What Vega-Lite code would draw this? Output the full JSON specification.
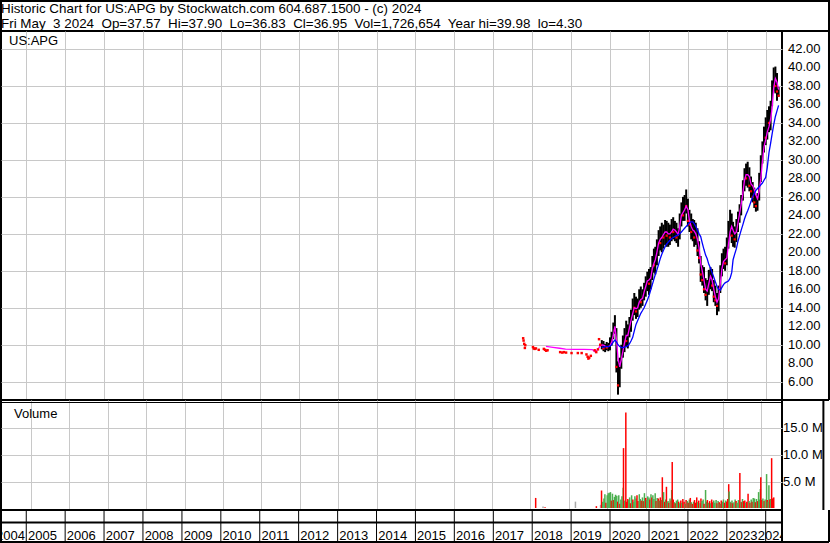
{
  "$schema": "https://vega.github.io/schema/vega-lite/v6.json",
  "padding": 0,
  "background": "white",
  "spacing": 0,
  "bounds": "flush",
  "config": {
    "view": {"stroke": "#000", "strokeWidth": 2},
    "font": "Liberation Sans",
    "axis": {"gridColor": "#c8c8c8", "gridWidth": 1, "gridOpacity": 1}
  },
  "datasets": {
    "head": [
      {"n": 1, "t": "Historic Chart for US:APG by Stockwatch.com 604.687.1500 - (c) 2024"},
      {"n": 2, "t": "Fri May\u00a0 3 2024\u00a0 Op=37.57\u00a0 Hi=37.90\u00a0 Lo=36.83\u00a0 Cl=36.95\u00a0 Vol=1,726,654\u00a0 Year hi=39.98\u00a0 lo=4.30"}
    ],
    "p": [
      {"d":"2018-05-10","m1":9.83},{"d":"2018-07-15","m1":9.72},{"d":"2018-09-15","m1":9.62},{"d":"2018-11-10","m1":9.52},
      {"d":"2019-02-01","m1":9.5},{"d":"2019-05-01","m1":9.5},{"d":"2019-07-20","m1":9.48},{"d":"2019-08-10","m1":9.25},
      {"d":"2019-09-05","m1":9.45},{"d":"2019-09-25","m1":9.78},
      {"d":"2019-10-16","o":9.6,"h":10.5,"l":9.5,"c":10.2,"m1":9.97,"m2":9.7},
      {"d":"2019-11-01","o":10.2,"h":10.4,"l":9.3,"c":9.6,"m1":9.95,"m2":9.75},
      {"d":"2019-11-16","o":9.6,"h":10.1,"l":9.2,"c":9.9,"m1":9.85,"m2":9.8},
      {"d":"2019-12-01","o":9.9,"h":10.3,"l":9.4,"c":9.7,"m1":9.8,"m2":9.8},
      {"d":"2019-12-16","o":9.7,"h":10.2,"l":9.3,"c":9.9,"m1":9.8,"m2":9.8},
      {"d":"2020-01-01","o":9.9,"h":10.8,"l":9.4,"c":10.5,"m1":9.9,"m2":9.85},
      {"d":"2020-01-16","o":10.5,"h":11.4,"l":9.9,"c":11.0,"m1":10.3,"m2":10.0},
      {"d":"2020-02-01","o":11.0,"h":12.4,"l":10.6,"c":12.2,"m1":11.0,"m2":10.3},
      {"d":"2020-02-16","o":12.2,"h":13.2,"l":11.2,"c":11.6,"m1":12.0,"m2":10.5},
      {"d":"2020-03-01","o":11.6,"h":11.8,"l":7.0,"c":7.6,"m1":10.6,"m2":10.3},
      {"d":"2020-03-16","o":7.6,"h":8.2,"l":4.6,"c":5.6,"m1":8.6,"m2":10.0},
      {"d":"2020-04-01","o":5.6,"h":8.6,"l":5.4,"c":8.2,"m1":7.6,"m2":9.8},
      {"d":"2020-04-16","o":8.2,"h":10.0,"l":7.4,"c":9.6,"m1":8.4,"m2":9.7},
      {"d":"2020-05-01","o":9.6,"h":11.0,"l":8.6,"c":10.2,"m1":9.3,"m2":9.7},
      {"d":"2020-05-16","o":10.2,"h":11.8,"l":9.2,"c":11.0,"m1":10.2,"m2":9.75},
      {"d":"2020-06-01","o":11.0,"h":12.6,"l":9.8,"c":10.4,"m1":11.0,"m2":9.8},
      {"d":"2020-06-16","o":10.4,"h":12.2,"l":9.6,"c":11.6,"m1":11.0,"m2":9.9},
      {"d":"2020-07-01","o":11.6,"h":13.0,"l":10.8,"c":12.6,"m1":11.8,"m2":10.1},
      {"d":"2020-07-16","o":12.6,"h":13.8,"l":11.4,"c":13.2,"m1":12.6,"m2":10.4},
      {"d":"2020-08-01","o":13.2,"h":15.0,"l":12.6,"c":14.4,"m1":13.4,"m2":10.8},
      {"d":"2020-08-16","o":14.4,"h":15.6,"l":13.2,"c":14.0,"m1":14.0,"m2":11.5},
      {"d":"2020-09-01","o":14.0,"h":15.2,"l":12.8,"c":13.6,"m1":13.9,"m2":12.2},
      {"d":"2020-09-16","o":13.6,"h":15.0,"l":13.0,"c":14.6,"m1":14.0,"m2":12.6},
      {"d":"2020-10-01","o":14.6,"h":16.0,"l":13.8,"c":15.2,"m1":14.6,"m2":13.0},
      {"d":"2020-10-16","o":15.2,"h":16.3,"l":14.0,"c":14.6,"m1":14.9,"m2":13.4},
      {"d":"2020-11-01","o":14.6,"h":16.0,"l":14.2,"c":15.6,"m1":15.0,"m2":13.7},
      {"d":"2020-11-16","o":15.6,"h":16.7,"l":14.8,"c":16.2,"m1":15.7,"m2":14.0},
      {"d":"2020-12-01","o":16.2,"h":17.4,"l":15.2,"c":16.8,"m1":16.3,"m2":14.4},
      {"d":"2020-12-16","o":16.8,"h":17.9,"l":15.8,"c":17.4,"m1":16.9,"m2":14.8},
      {"d":"2021-01-01","o":17.4,"h":18.2,"l":15.4,"c":16.6,"m1":17.0,"m2":15.3},
      {"d":"2021-01-16","o":16.6,"h":18.4,"l":16.0,"c":17.8,"m1":17.2,"m2":15.9},
      {"d":"2021-02-01","o":17.8,"h":19.6,"l":17.0,"c":19.0,"m1":18.2,"m2":16.5},
      {"d":"2021-02-16","o":19.0,"h":20.4,"l":17.8,"c":18.6,"m1":18.8,"m2":17.1},
      {"d":"2021-03-01","o":18.6,"h":20.6,"l":17.6,"c":19.8,"m1":19.2,"m2":17.6},
      {"d":"2021-03-16","o":19.8,"h":21.4,"l":18.6,"c":20.8,"m1":20.0,"m2":18.1},
      {"d":"2021-04-01","o":20.8,"h":22.4,"l":19.6,"c":21.8,"m1":21.0,"m2":18.7},
      {"d":"2021-04-16","o":21.8,"h":22.8,"l":20.2,"c":21.0,"m1":21.4,"m2":19.3},
      {"d":"2021-05-01","o":21.0,"h":23.2,"l":20.0,"c":22.4,"m1":21.6,"m2":19.8},
      {"d":"2021-05-16","o":22.4,"h":23.0,"l":20.4,"c":21.6,"m1":21.9,"m2":20.2},
      {"d":"2021-06-01","o":21.6,"h":23.5,"l":20.8,"c":22.8,"m1":22.2,"m2":20.6},
      {"d":"2021-06-16","o":22.8,"h":23.4,"l":20.6,"c":21.8,"m1":22.2,"m2":20.9},
      {"d":"2021-07-01","o":21.8,"h":23.2,"l":20.6,"c":22.6,"m1":22.0,"m2":21.1},
      {"d":"2021-07-16","o":22.6,"h":23.0,"l":20.8,"c":21.6,"m1":22.0,"m2":21.3},
      {"d":"2021-08-01","o":21.6,"h":23.6,"l":21.2,"c":23.0,"m1":22.2,"m2":21.5},
      {"d":"2021-08-16","o":23.0,"h":23.8,"l":21.4,"c":22.2,"m1":22.5,"m2":21.6},
      {"d":"2021-09-01","o":22.2,"h":23.4,"l":21.2,"c":22.8,"m1":22.4,"m2":21.7},
      {"d":"2021-09-16","o":22.8,"h":23.2,"l":21.0,"c":21.6,"m1":22.2,"m2":21.8},
      {"d":"2021-10-01","o":21.6,"h":22.6,"l":20.6,"c":22.2,"m1":21.9,"m2":21.9},
      {"d":"2021-10-16","o":22.2,"h":24.2,"l":21.4,"c":23.8,"m1":22.8,"m2":22.0},
      {"d":"2021-11-01","o":23.8,"h":25.4,"l":22.8,"c":24.6,"m1":24.0,"m2":22.2},
      {"d":"2021-11-16","o":24.6,"h":26.0,"l":23.4,"c":24.0,"m1":24.3,"m2":22.4},
      {"d":"2021-12-01","o":24.0,"h":26.2,"l":23.4,"c":25.6,"m1":24.6,"m2":22.6},
      {"d":"2021-12-16","o":25.6,"h":26.8,"l":24.2,"c":25.0,"m1":25.0,"m2":22.8},
      {"d":"2022-01-01","o":25.0,"h":25.8,"l":22.8,"c":23.4,"m1":24.6,"m2":23.0},
      {"d":"2022-01-16","o":23.4,"h":24.6,"l":22.2,"c":23.0,"m1":23.4,"m2":23.2},
      {"d":"2022-02-01","o":23.0,"h":24.2,"l":21.4,"c":22.2,"m1":22.8,"m2":23.3},
      {"d":"2022-02-16","o":22.2,"h":23.6,"l":21.2,"c":22.8,"m1":22.4,"m2":23.3},
      {"d":"2022-03-01","o":22.8,"h":23.5,"l":20.6,"c":21.6,"m1":22.3,"m2":23.1},
      {"d":"2022-03-16","o":21.6,"h":23.2,"l":20.8,"c":22.6,"m1":22.0,"m2":22.8},
      {"d":"2022-04-01","o":22.4,"h":22.6,"l":19.6,"c":20.2,"m1":21.4,"m2":22.4},
      {"d":"2022-04-16","o":20.2,"h":21.2,"l":18.8,"c":19.4,"m1":20.5,"m2":22.0},
      {"d":"2022-05-01","o":19.4,"h":19.6,"l":16.8,"c":17.6,"m1":18.8,"m2":21.7},
      {"d":"2022-05-16","o":17.6,"h":18.6,"l":16.4,"c":17.0,"m1":18.0,"m2":21.0},
      {"d":"2022-06-01","o":17.0,"h":18.4,"l":15.6,"c":16.0,"m1":17.0,"m2":20.3},
      {"d":"2022-06-16","o":16.0,"h":17.2,"l":14.8,"c":15.4,"m1":16.0,"m2":19.7},
      {"d":"2022-07-01","o":15.4,"h":17.0,"l":14.2,"c":16.4,"m1":15.8,"m2":19.3},
      {"d":"2022-07-16","o":16.4,"h":18.1,"l":15.4,"c":17.4,"m1":16.6,"m2":18.7},
      {"d":"2022-08-01","o":17.4,"h":18.4,"l":16.0,"c":17.8,"m1":17.4,"m2":18.3},
      {"d":"2022-08-16","o":17.8,"h":18.2,"l":15.8,"c":16.4,"m1":17.0,"m2":17.8},
      {"d":"2022-09-01","o":16.4,"h":17.0,"l":14.6,"c":15.2,"m1":16.0,"m2":17.3},
      {"d":"2022-09-16","o":15.2,"h":16.4,"l":14.2,"c":14.8,"m1":15.2,"m2":16.8},
      {"d":"2022-10-01","o":14.8,"h":15.6,"l":13.2,"c":14.2,"m1":14.6,"m2":16.3},
      {"d":"2022-10-16","o":14.2,"h":16.4,"l":13.6,"c":15.8,"m1":15.0,"m2":16.0},
      {"d":"2022-11-01","o":15.8,"h":18.6,"l":15.6,"c":18.0,"m1":16.6,"m2":15.9},
      {"d":"2022-11-16","o":18.0,"h":19.9,"l":17.4,"c":19.2,"m1":18.2,"m2":16.2},
      {"d":"2022-12-01","o":19.2,"h":20.4,"l":18.2,"c":19.6,"m1":19.0,"m2":16.5},
      {"d":"2022-12-16","o":19.6,"h":20.6,"l":18.0,"c":18.8,"m1":19.2,"m2":16.7},
      {"d":"2023-01-01","o":18.8,"h":21.6,"l":18.6,"c":21.0,"m1":19.4,"m2":16.8},
      {"d":"2023-01-16","o":21.0,"h":23.4,"l":20.4,"c":22.6,"m1":20.8,"m2":16.9},
      {"d":"2023-02-01","o":22.6,"h":24.6,"l":21.8,"c":23.6,"m1":22.2,"m2":17.2},
      {"d":"2023-02-16","o":23.6,"h":24.2,"l":21.0,"c":21.8,"m1":22.8,"m2":17.8},
      {"d":"2023-03-01","o":21.8,"h":23.3,"l":20.6,"c":22.4,"m1":22.4,"m2":19.2},
      {"d":"2023-03-16","o":22.4,"h":22.8,"l":20.5,"c":21.4,"m1":22.0,"m2":19.8},
      {"d":"2023-04-01","o":21.4,"h":23.6,"l":21.1,"c":23.0,"m1":22.2,"m2":20.4},
      {"d":"2023-04-16","o":23.0,"h":24.4,"l":22.2,"c":23.8,"m1":23.2,"m2":21.2},
      {"d":"2023-05-01","o":23.8,"h":25.2,"l":23.2,"c":24.8,"m1":24.2,"m2":21.8},
      {"d":"2023-05-16","o":24.8,"h":26.2,"l":24.0,"c":25.8,"m1":25.2,"m2":22.4},
      {"d":"2023-06-01","o":25.8,"h":27.8,"l":25.6,"c":27.4,"m1":26.4,"m2":23.0},
      {"d":"2023-06-16","o":27.4,"h":29.1,"l":26.6,"c":28.4,"m1":27.8,"m2":23.6},
      {"d":"2023-07-01","o":28.4,"h":29.6,"l":27.2,"c":28.0,"m1":28.4,"m2":24.1},
      {"d":"2023-07-16","o":28.0,"h":29.8,"l":27.0,"c":28.8,"m1":28.4,"m2":24.5},
      {"d":"2023-08-01","o":28.8,"h":29.2,"l":26.6,"c":27.2,"m1":28.2,"m2":25.0},
      {"d":"2023-08-16","o":27.2,"h":28.2,"l":25.9,"c":26.6,"m1":27.4,"m2":25.5},
      {"d":"2023-09-01","o":26.6,"h":27.6,"l":25.4,"c":26.0,"m1":27.2,"m2":26.0},
      {"d":"2023-09-16","o":26.0,"h":27.0,"l":24.8,"c":25.4,"m1":26.8,"m2":26.4},
      {"d":"2023-10-01","o":25.4,"h":26.2,"l":24.4,"c":25.0,"m1":26.2,"m2":26.7},
      {"d":"2023-10-16","o":25.0,"h":26.4,"l":24.5,"c":25.8,"m1":25.8,"m2":26.9},
      {"d":"2023-11-01","o":25.8,"h":28.6,"l":25.6,"c":28.0,"m1":26.6,"m2":27.1},
      {"d":"2023-11-16","o":28.0,"h":30.5,"l":27.6,"c":30.0,"m1":28.0,"m2":27.3},
      {"d":"2023-12-01","o":30.0,"h":32.0,"l":29.6,"c":31.4,"m1":29.8,"m2":27.5},
      {"d":"2023-12-16","o":31.4,"h":33.6,"l":30.8,"c":33.0,"m1":31.4,"m2":27.8},
      {"d":"2024-01-01","o":33.0,"h":34.6,"l":31.6,"c":32.4,"m1":32.2,"m2":28.1},
      {"d":"2024-01-16","o":32.4,"h":35.4,"l":32.2,"c":34.6,"m1":33.0,"m2":29.2},
      {"d":"2024-02-01","o":34.6,"h":35.8,"l":33.0,"c":34.0,"m1":33.6,"m2":30.8},
      {"d":"2024-02-16","o":34.0,"h":36.4,"l":33.2,"c":36.0,"m1":34.4,"m2":31.8},
      {"d":"2024-03-01","o":36.0,"h":38.6,"l":35.8,"c":38.2,"m1":35.6,"m2":32.8},
      {"d":"2024-03-16","o":38.2,"h":40.0,"l":37.4,"c":39.2,"m1":37.8,"m2":33.8},
      {"d":"2024-04-01","o":39.2,"h":40.1,"l":37.2,"c":38.0,"m1":38.8,"m2":34.7},
      {"d":"2024-04-16","o":38.0,"h":39.4,"l":36.4,"c":37.4,"m1":38.4,"m2":35.3},
      {"d":"2024-05-01","o":37.57,"h":37.9,"l":36.83,"c":36.95,"m1":37.6,"m2":35.9}
    ],
    "dots": [
      {"d":"2017-10-08","p":10.7},{"d":"2017-10-12","p":10.45},{"d":"2017-10-18","p":10.1},{"d":"2017-10-24","p":9.65},
      {"d":"2017-10-28","p":9.95},{"d":"2018-01-08","p":9.75},{"d":"2018-01-15","p":9.6},{"d":"2018-01-24","p":9.55},
      {"d":"2018-02-05","p":9.6},{"d":"2018-03-03","p":9.45},{"d":"2018-04-20","p":9.55},{"d":"2018-05-01","p":9.45},
      {"d":"2018-05-12","p":9.35},{"d":"2018-05-25","p":9.4},{"d":"2018-09-20","p":9.2},{"d":"2018-10-10","p":9.15},
      {"d":"2018-10-25","p":9.2},{"d":"2018-11-15","p":9.15},{"d":"2019-01-05","p":9.1},{"d":"2019-03-05","p":9.1},
      {"d":"2019-04-10","p":9.1},{"d":"2019-05-25","p":8.95},{"d":"2019-06-05","p":8.7},{"d":"2019-06-12","p":8.5},
      {"d":"2019-06-20","p":8.6},{"d":"2019-07-05","p":8.8},{"d":"2019-08-10","p":9.4},{"d":"2019-08-25","p":9.2},
      {"d":"2019-09-10","p":9.5},{"d":"2019-09-20","p":10.6},{"d":"2019-10-01","p":10.0}
    ],
    "vol": [
      {"d":"2018-02-20","v":1.9,"k":"dn"},{"d":"2018-05-01","v":0.3,"k":"na"},{"d":"2018-05-20","v":0.15,"k":"dn"},
      {"d":"2019-03-05","v":1.2,"k":"na"},{"d":"2019-09-20","v":0.35,"k":"dn"},{"d":"2019-10-30","v":0.6,"k":"na"},
      {"d":"2019-11-08","v":3.3,"k":"dn"},{"d":"2019-11-20","v":1.2,"k":"up"},{"d":"2019-12-01","v":1.8,"k":"up"},
      {"d":"2019-12-10","v":2.6,"k":"up"},{"d":"2019-12-20","v":1.0,"k":"dn"},
      {"d":"2020-01-01","v":2.4,"k":"up"},{"d":"2020-01-10","v":2.8,"k":"up"},{"d":"2020-01-20","v":2.9,"k":"up"},
      {"d":"2020-02-01","v":3.0,"k":"up"},{"d":"2020-02-10","v":1.4,"k":"dn"},{"d":"2020-02-20","v":2.7,"k":"up"},
      {"d":"2020-03-01","v":1.5,"k":"dn"},{"d":"2020-03-10","v":2.1,"k":"up"},{"d":"2020-03-20","v":2.5,"k":"up"},
      {"d":"2020-04-01","v":2.3,"k":"up"},{"d":"2020-04-10","v":1.2,"k":"dn"},{"d":"2020-04-20","v":2.4,"k":"up"},
      {"d":"2020-05-01","v":0.8,"k":"dn"},{"d":"2020-05-10","v":1.6,"k":"up"},{"d":"2020-05-20","v":2.2,"k":"up"},
      {"d":"2020-06-01","v":3.8,"k":"up"},{"d":"2020-06-04","v":11.3,"k":"dn"},{"d":"2020-06-15","v":1.4,"k":"up"},
      {"d":"2020-06-26","v":18.0,"k":"dn"},{"d":"2020-07-05","v":1.2,"k":"dn"},{"d":"2020-07-15","v":1.7,"k":"dn"},
      {"d":"2020-07-25","v":1.5,"k":"up"},{"d":"2020-08-01","v":2.0,"k":"up"},{"d":"2020-08-10","v":0.9,"k":"dn"},
      {"d":"2020-08-20","v":2.4,"k":"up"},{"d":"2020-09-01","v":1.6,"k":"dn"},{"d":"2020-09-10","v":1.2,"k":"up"},
      {"d":"2020-09-20","v":2.2,"k":"up"},{"d":"2020-10-01","v":1.8,"k":"up"},{"d":"2020-10-10","v":2.4,"k":"dn"},
      {"d":"2020-10-20","v":1.3,"k":"dn"},{"d":"2020-11-01","v":2.6,"k":"up"},{"d":"2020-11-10","v":1.7,"k":"up"},
      {"d":"2020-11-20","v":1.4,"k":"dn"},{"d":"2020-12-01","v":2.0,"k":"up"},{"d":"2020-12-10","v":1.3,"k":"dn"},
      {"d":"2020-12-20","v":2.8,"k":"up"},
      {"d":"2021-01-01","v":1.9,"k":"dn"},{"d":"2021-01-10","v":1.5,"k":"up"},{"d":"2021-01-20","v":2.2,"k":"up"},
      {"d":"2021-02-01","v":2.0,"k":"up"},{"d":"2021-02-10","v":1.6,"k":"dn"},{"d":"2021-02-20","v":2.6,"k":"up"},
      {"d":"2021-03-01","v":2.0,"k":"dn"},{"d":"2021-03-10","v":2.4,"k":"up"},{"d":"2021-03-20","v":1.7,"k":"up"},
      {"d":"2021-04-01","v":2.8,"k":"up"},{"d":"2021-04-10","v":1.3,"k":"dn"},{"d":"2021-04-20","v":1.9,"k":"up"},
      {"d":"2021-05-01","v":1.8,"k":"dn"},{"d":"2021-05-10","v":1.4,"k":"up"},{"d":"2021-05-20","v":2.0,"k":"dn"},
      {"d":"2021-06-01","v":1.5,"k":"up"},{"d":"2021-06-08","v":5.8,"k":"dn"},{"d":"2021-06-20","v":3.0,"k":"up"},
      {"d":"2021-07-01","v":1.2,"k":"dn"},{"d":"2021-07-10","v":1.6,"k":"up"},{"d":"2021-07-17","v":4.0,"k":"dn"},
      {"d":"2021-07-25","v":1.1,"k":"up"},{"d":"2021-08-01","v":1.3,"k":"up"},{"d":"2021-08-10","v":1.0,"k":"dn"},
      {"d":"2021-08-20","v":1.8,"k":"up"},{"d":"2021-09-01","v":1.4,"k":"dn"},{"d":"2021-09-05","v":3.4,"k":"up"},
      {"d":"2021-09-10","v":8.7,"k":"dn"},{"d":"2021-09-20","v":1.6,"k":"dn"},{"d":"2021-10-01","v":1.1,"k":"up"},
      {"d":"2021-10-10","v":0.9,"k":"dn"},{"d":"2021-10-20","v":1.4,"k":"up"},{"d":"2021-11-01","v":1.6,"k":"up"},
      {"d":"2021-11-10","v":1.2,"k":"dn"},{"d":"2021-11-20","v":0.9,"k":"up"},{"d":"2021-12-01","v":1.4,"k":"dn"},
      {"d":"2021-12-10","v":1.0,"k":"up"},{"d":"2021-12-20","v":1.7,"k":"dn"},
      {"d":"2022-01-01","v":1.2,"k":"dn"},{"d":"2022-01-10","v":0.8,"k":"up"},{"d":"2022-01-20","v":1.5,"k":"dn"},
      {"d":"2022-02-01","v":1.3,"k":"up"},{"d":"2022-02-10","v":1.0,"k":"dn"},{"d":"2022-02-20","v":1.6,"k":"up"},
      {"d":"2022-03-01","v":1.9,"k":"dn"},{"d":"2022-03-10","v":1.1,"k":"up"},{"d":"2022-03-20","v":0.8,"k":"dn"},
      {"d":"2022-04-01","v":1.2,"k":"up"},{"d":"2022-04-10","v":1.5,"k":"dn"},{"d":"2022-04-20","v":1.0,"k":"dn"},
      {"d":"2022-05-01","v":2.0,"k":"dn"},{"d":"2022-05-10","v":1.1,"k":"up"},{"d":"2022-05-20","v":1.4,"k":"dn"},
      {"d":"2022-06-01","v":0.9,"k":"up"},{"d":"2022-06-10","v":1.8,"k":"dn"},{"d":"2022-06-20","v":1.3,"k":"up"},
      {"d":"2022-07-01","v":1.6,"k":"up"},{"d":"2022-07-10","v":0.8,"k":"dn"},{"d":"2022-07-24","v":3.4,"k":"up"},
      {"d":"2022-08-01","v":1.2,"k":"up"},{"d":"2022-08-10","v":1.5,"k":"dn"},{"d":"2022-08-20","v":1.0,"k":"up"},
      {"d":"2022-09-01","v":1.3,"k":"dn"},{"d":"2022-09-10","v":0.9,"k":"up"},{"d":"2022-09-20","v":1.6,"k":"dn"},
      {"d":"2022-10-01","v":1.1,"k":"dn"},{"d":"2022-10-10","v":1.4,"k":"up"},{"d":"2022-10-20","v":1.0,"k":"up"},
      {"d":"2022-11-01","v":1.5,"k":"up"},{"d":"2022-11-10","v":0.9,"k":"dn"},{"d":"2022-11-20","v":1.3,"k":"up"},
      {"d":"2022-12-01","v":1.1,"k":"dn"},{"d":"2022-12-10","v":0.8,"k":"up"},{"d":"2022-12-20","v":1.4,"k":"dn"},
      {"d":"2023-01-01","v":1.2,"k":"up"},{"d":"2023-01-10","v":1.6,"k":"up"},{"d":"2023-01-20","v":1.0,"k":"dn"},
      {"d":"2023-02-01","v":1.4,"k":"up"},{"d":"2023-02-10","v":1.2,"k":"dn"},{"d":"2023-02-20","v":1.7,"k":"dn"},
      {"d":"2023-03-01","v":4.5,"k":"dn"},{"d":"2023-03-05","v":3.1,"k":"up"},{"d":"2023-03-15","v":1.2,"k":"up"},
      {"d":"2023-03-25","v":1.0,"k":"dn"},{"d":"2023-04-01","v":1.4,"k":"up"},{"d":"2023-04-10","v":0.9,"k":"dn"},
      {"d":"2023-04-20","v":1.1,"k":"up"},{"d":"2023-05-01","v":1.6,"k":"up"},{"d":"2023-05-10","v":1.3,"k":"dn"},
      {"d":"2023-05-20","v":1.0,"k":"up"},{"d":"2023-06-01","v":1.5,"k":"up"},{"d":"2023-06-15","v":6.6,"k":"dn"},
      {"d":"2023-06-25","v":1.2,"k":"up"},{"d":"2023-07-01","v":1.1,"k":"dn"},{"d":"2023-07-10","v":1.7,"k":"up"},
      {"d":"2023-07-20","v":1.3,"k":"dn"},{"d":"2023-08-01","v":1.4,"k":"dn"},{"d":"2023-08-10","v":1.0,"k":"up"},
      {"d":"2023-08-20","v":1.2,"k":"dn"},{"d":"2023-09-01","v":2.7,"k":"dn"},{"d":"2023-09-10","v":1.3,"k":"up"},
      {"d":"2023-09-20","v":1.0,"k":"dn"},{"d":"2023-10-01","v":1.6,"k":"up"},{"d":"2023-10-10","v":1.2,"k":"dn"},
      {"d":"2023-10-20","v":1.9,"k":"up"},{"d":"2023-11-01","v":1.8,"k":"up"},{"d":"2023-11-10","v":1.1,"k":"dn"},
      {"d":"2023-11-20","v":1.7,"k":"up"},{"d":"2023-12-01","v":1.3,"k":"dn"},{"d":"2023-12-10","v":3.0,"k":"up"},
      {"d":"2023-12-20","v":1.6,"k":"up"},{"d":"2023-12-27","v":3.6,"k":"up"},{"d":"2023-12-31","v":5.8,"k":"dn"},
      {"d":"2024-01-10","v":1.5,"k":"dn"},{"d":"2024-01-20","v":1.8,"k":"up"},{"d":"2024-02-01","v":1.3,"k":"dn"},
      {"d":"2024-02-10","v":1.6,"k":"up"},{"d":"2024-02-24","v":6.4,"k":"up"},{"d":"2024-03-01","v":1.5,"k":"dn"},
      {"d":"2024-03-10","v":1.2,"k":"up"},{"d":"2024-03-17","v":4.3,"k":"up"},{"d":"2024-03-25","v":1.6,"k":"dn"},
      {"d":"2024-04-01","v":1.7,"k":"up"},{"d":"2024-04-12","v":9.4,"k":"dn"},{"d":"2024-04-22","v":1.8,"k":"dn"},
      {"d":"2024-05-02","v":2.0,"k":"dn"}
    ],
    "years": [
      {"d":"2005-01-01","y":"2005"},{"d":"2006-01-01","y":"2006"},{"d":"2007-01-01","y":"2007"},{"d":"2008-01-01","y":"2008"},
      {"d":"2009-01-01","y":"2009"},{"d":"2010-01-01","y":"2010"},{"d":"2011-01-01","y":"2011"},{"d":"2012-01-01","y":"2012"},
      {"d":"2013-01-01","y":"2013"},{"d":"2014-01-01","y":"2014"},{"d":"2015-01-01","y":"2015"},{"d":"2016-01-01","y":"2016"},
      {"d":"2017-01-01","y":"2017"},{"d":"2018-01-01","y":"2018"},{"d":"2019-01-01","y":"2019"},{"d":"2020-01-01","y":"2020"},
      {"d":"2021-01-01","y":"2021"},{"d":"2022-01-01","y":"2022"},{"d":"2023-01-01","y":"2023"},{"d":"2024-01-01","y":"2024"}
    ],
    "pt": [
      {"v":6},{"v":8},{"v":10},{"v":12},{"v":14},{"v":16},{"v":18},{"v":20},{"v":22},{"v":24},
      {"v":26},{"v":28},{"v":30},{"v":32},{"v":34},{"v":36},{"v":38},{"v":40},{"v":42}
    ],
    "vt": [
      {"v":5,"t":"5.0 M"},{"v":10,"t":"10.0 M"},{"v":15,"t":"15.0 M"}
    ]
  },
  "vconcat": [
    {
      "width": 828,
      "height": 30,
      "view": {"stroke": "#000", "strokeWidth": 2, "fill": "white"},
      "data": {"name": "head"},
      "mark": {"type": "text", "align": "left", "baseline": "middle", "fontSize": 13.4,
               "font": "Liberation Sans", "color": "#000"},
      "encoding": {
        "x": {"datum": {"year": 2004, "month": 5, "date": 9}, "type": "temporal",
              "scale": {"domain": [{"year": 2004, "month": 5, "date": 9}, {"year": 2025, "month": 12, "date": 31}]},
              "axis": null},
        "y": {"field": "n", "type": "ordinal", "axis": null,
              "scale": {"paddingInner": 0, "paddingOuter": 0}},
        "text": {"field": "t", "type": "nominal"}
      }
    },
    {
      "width": 781,
      "height": 369,
      "layer": [
        {
          "data": {"name": "p"},
          "mark": {"type": "rule", "color": "#000", "strokeWidth": 2},
          "encoding": {
            "x": {
              "field": "d", "type": "temporal",
              "scale": {"domain": [{"year": 2004, "month": 5, "date": 9}, {"year": 2024, "month": 6, "date": 2}]},
              "axis": {"grid": true, "labels": false, "ticks": false, "domain": false, "title": null,
                       "tickCount": {"interval": "year", "step": 1}}
            },
            "y": {
              "field": "l", "type": "quantitative",
              "scale": {"domain": [4.02, 43.948], "zero": false, "nice": false},
              "axis": {"values": [6,8,10,12,14,16,18,20,22,24,26,28,30,32,34,36,38,40,42],
                       "grid": true, "labels": false, "ticks": false, "domain": false, "title": null}
            },
            "y2": {"field": "h"}
          }
        },
        {
          "data": {"name": "p"},
          "transform": [{"filter": "datum.c < datum.o"}],
          "mark": {"type": "square", "color": "#ff0000", "size": 5, "opacity": 1},
          "encoding": {
            "x": {"field": "d", "type": "temporal"},
            "y": {"field": "c", "type": "quantitative"}
          }
        },
        {
          "data": {"name": "p"},
          "mark": {"type": "line", "color": "#ff00ff", "strokeWidth": 1.3},
          "encoding": {
            "x": {"field": "d", "type": "temporal"},
            "y": {"field": "m1", "type": "quantitative"}
          }
        },
        {
          "data": {"name": "p"},
          "mark": {"type": "line", "color": "#0000ff", "strokeWidth": 1.3},
          "encoding": {
            "x": {"field": "d", "type": "temporal"},
            "y": {"field": "m2", "type": "quantitative"}
          }
        },
        {
          "data": {"name": "dots"},
          "mark": {"type": "square", "color": "#ff0000", "size": 6, "opacity": 1},
          "encoding": {
            "x": {"field": "d", "type": "temporal"},
            "y": {"field": "p", "type": "quantitative"}
          }
        },
        {
          "data": {"values": [{"t": "US:APG"}]},
          "mark": {"type": "text", "align": "left", "baseline": "alphabetic", "dx": 8, "dy": 14,
                   "fontSize": 13, "font": "Liberation Sans", "color": "#000"},
          "encoding": {
            "x": {"datum": {"year": 2004, "month": 5, "date": 9}, "type": "temporal"},
            "y": {"datum": 43.948, "type": "quantitative"},
            "text": {"field": "t", "type": "nominal"}
          }
        },
        {
          "data": {"name": "pt"},
          "mark": {"type": "text", "align": "left", "baseline": "middle", "dx": 6,
                   "fontSize": 13, "font": "Liberation Sans", "color": "#000"},
          "encoding": {
            "x": {"datum": {"year": 2024, "month": 6, "date": 2}, "type": "temporal"},
            "y": {"field": "v", "type": "quantitative"},
            "text": {"field": "v", "type": "quantitative", "format": ".2f"}
          }
        },
        {
          "data": {"values": [{}]},
          "mark": {"type": "rule", "color": "#000", "strokeWidth": 2},
          "encoding": {
            "x": {"datum": {"year": 2025, "month": 8, "date": 17}, "type": "temporal"}
          }
        },
        {
          "data": {"values": [{}]},
          "mark": {"type": "rule", "color": "#000", "strokeWidth": 2},
          "encoding": {
            "x": {"datum": {"year": 2024, "month": 6, "date": 2}, "type": "temporal"},
            "x2": {"datum": {"year": 2025, "month": 8, "date": 17}},
            "y": {"datum": 4.02, "type": "quantitative"}
          }
        }
      ]
    },
    {
      "width": 781,
      "height": 110,
      "layer": [
        {
          "data": {"name": "vol"},
          "mark": {"type": "bar", "width": 1.5},
          "encoding": {
            "x": {
              "field": "d", "type": "temporal",
              "scale": {"domain": [{"year": 2004, "month": 5, "date": 9}, {"year": 2024, "month": 6, "date": 2}]},
              "axis": {"orient": "top", "offset": -2, "grid": true, "labels": false, "ticks": false,
                       "domain": true, "domainColor": "#000", "domainWidth": 1, "title": null,
                       "tickCount": {"interval": "year", "step": 1}}
            },
            "y": {
              "field": "v", "type": "quantitative",
              "scale": {"domain": [-0.377, 20.377], "zero": false, "nice": false},
              "axis": {"values": [5, 10, 15], "grid": true, "labels": false, "ticks": false, "domain": false, "title": null}
            },
            "color": {
              "field": "k", "type": "nominal",
              "scale": {"domain": ["up", "dn", "na"], "range": ["#4caf50", "#ff0000", "#a8a8a8"]},
              "legend": null
            }
          }
        },
        {
          "data": {"values": [{"t": "Volume"}]},
          "mark": {"type": "text", "align": "left", "baseline": "alphabetic", "dx": 8, "dy": 18.3,
                   "fontSize": 13, "font": "Liberation Sans", "color": "#000"},
          "encoding": {
            "x": {"datum": {"year": 2004, "month": 5, "date": 9}, "type": "temporal"},
            "y": {"datum": 20.377, "type": "quantitative"},
            "text": {"field": "t", "type": "nominal"}
          }
        },
        {
          "data": {"name": "vt"},
          "mark": {"type": "text", "align": "left", "baseline": "middle", "dx": 6,
                   "fontSize": 13, "font": "Liberation Sans", "color": "#000"},
          "encoding": {
            "x": {"datum": {"year": 2024, "month": 6, "date": 2}, "type": "temporal"},
            "y": {"field": "v", "type": "quantitative"},
            "text": {"field": "t", "type": "nominal"}
          }
        },
        {
          "data": {"values": [{}]},
          "mark": {"type": "rule", "color": "#000", "strokeWidth": 2},
          "encoding": {
            "x": {"datum": {"year": 2025, "month": 8, "date": 17}, "type": "temporal"}
          }
        }
      ]
    },
    {
      "width": 781,
      "height": 32,
      "layer": [
        {
          "data": {"name": "years"},
          "mark": {"type": "rule", "color": "#000", "strokeWidth": 1},
          "encoding": {
            "x": {
              "field": "d", "type": "temporal",
              "scale": {"domain": [{"year": 2004, "month": 5, "date": 9}, {"year": 2024, "month": 6, "date": 2}]},
              "axis": {"orient": "top", "offset": -12, "domain": true, "domainColor": "#000", "domainWidth": 2,
                       "labels": false, "ticks": false, "grid": false, "title": null}
            }
          }
        },
        {
          "data": {"name": "years"},
          "transform": [{"filter": "datum.y != '2024'"}],
          "mark": {"type": "text", "align": "left", "baseline": "alphabetic", "dx": 1.7, "dy": -2.5,
                   "fontSize": 13, "font": "Liberation Sans", "color": "#000"},
          "encoding": {
            "x": {"field": "d", "type": "temporal"},
            "y": {"datum": 0, "type": "quantitative", "scale": {"domain": [0, 1], "zero": false, "nice": false}, "axis": null},
            "text": {"field": "y", "type": "nominal"}
          }
        },
        {
          "data": {"name": "years"},
          "transform": [{"filter": "datum.y == '2024'"}],
          "mark": {"type": "text", "align": "right", "baseline": "alphabetic", "dx": 21, "dy": -2.5,
                   "fontSize": 13, "font": "Liberation Sans", "color": "#000", "clip": true},
          "encoding": {
            "x": {"field": "d", "type": "temporal"},
            "y": {"datum": 0, "type": "quantitative", "axis": null},
            "text": {"field": "y", "type": "nominal"}
          }
        },
        {
          "data": {"name": "years"},
          "transform": [{"filter": "datum.y == '2005'"}],
          "mark": {"type": "text", "align": "right", "baseline": "alphabetic", "dx": -1.3, "dy": -2.5,
                   "fontSize": 13, "font": "Liberation Sans", "color": "#000", "clip": true},
          "encoding": {
            "x": {"field": "d", "type": "temporal"},
            "y": {"datum": 0, "type": "quantitative", "axis": null},
            "text": {"value": "2004"}
          }
        },
        {
          "data": {"values": [{}]},
          "mark": {"type": "rule", "color": "#000", "strokeWidth": 2},
          "encoding": {
            "x": {"datum": {"year": 2025, "month": 8, "date": 17}, "type": "temporal"}
          }
        },
        {
          "data": {"values": [{}]},
          "mark": {"type": "rule", "color": "#000", "strokeWidth": 2},
          "encoding": {
            "x": {"datum": {"year": 2024, "month": 6, "date": 2}, "type": "temporal"},
            "x2": {"datum": {"year": 2025, "month": 8, "date": 17}},
            "y": {"datum": 0, "type": "quantitative", "axis": null}
          }
        }
      ]
    }
  ]
}
